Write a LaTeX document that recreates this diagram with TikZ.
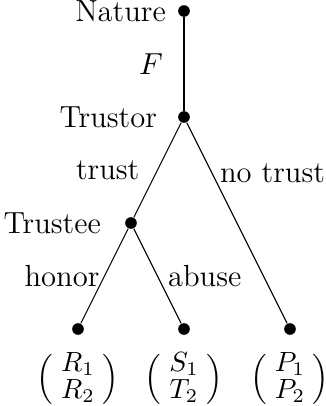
\documentclass[tikz,border=0pt]{standalone}
\usepackage{tikz}
\usetikzlibrary{positioning}

\tikzset{
  punto/.style={circle,fill=black,inner sep=0pt,minimum size=4.2pt},
  pago/.style={inner sep=0pt,font=\fontsize{10}{12}\selectfont}
}

\begin{document}
\begin{tikzpicture}[x=0.6706cm,y=1.3412cm,font=\fontsize{11}{13.2}\selectfont]
% Margenes
\useasboundingbox (-1.4717,-0.7264) rectangle (4.6792,3.1038);

% Nodos de decision
\node[punto,label={[label distance=0.7pt]left:Nature}] (nature) at (2,3) {};
\node[punto,label={[label distance=3.9pt]left:Trustor}] (trustor) at (2,2) {};
\node[punto,label={[label distance=5pt]left:Trustee}] (trustee) at (1,1) {};

% Hojas
\node[punto] (hojaA) at (0,0) {};
\node[punto] (hojaB) at (2,0) {};
\node[punto] (hojaC) at (4,0) {};

% Jugada de la naturaleza
\draw[line width=0.8pt] (nature) -- node[midway,left=3.9pt] {$F$} (trustor);

% Ramas
\draw (trustor) -- node[midway,left=3pt] {trust} (trustee);
\draw (trustor) -- node[pos=0.25,right=-0.6pt] {no trust} (hojaC);
\draw (trustee) -- node[midway,left=-1.7pt] {honor} (hojaA);
\draw (trustee) -- node[midway,right=0.3pt] {abuse} (hojaB);

% Pagos
\renewcommand{\arraystretch}{0.8}
\foreach \h/\a/\b in {hojaA/R_1/R_2, hojaB/S_1/T_2, hojaC/P_1/P_2} {
  \node[pago,below=6pt of \h] {$\Bigl(\begin{array}{@{\;}c@{\;}} \a\\ \b \end{array}\Bigr)$};
}
\end{tikzpicture}
\end{document}
